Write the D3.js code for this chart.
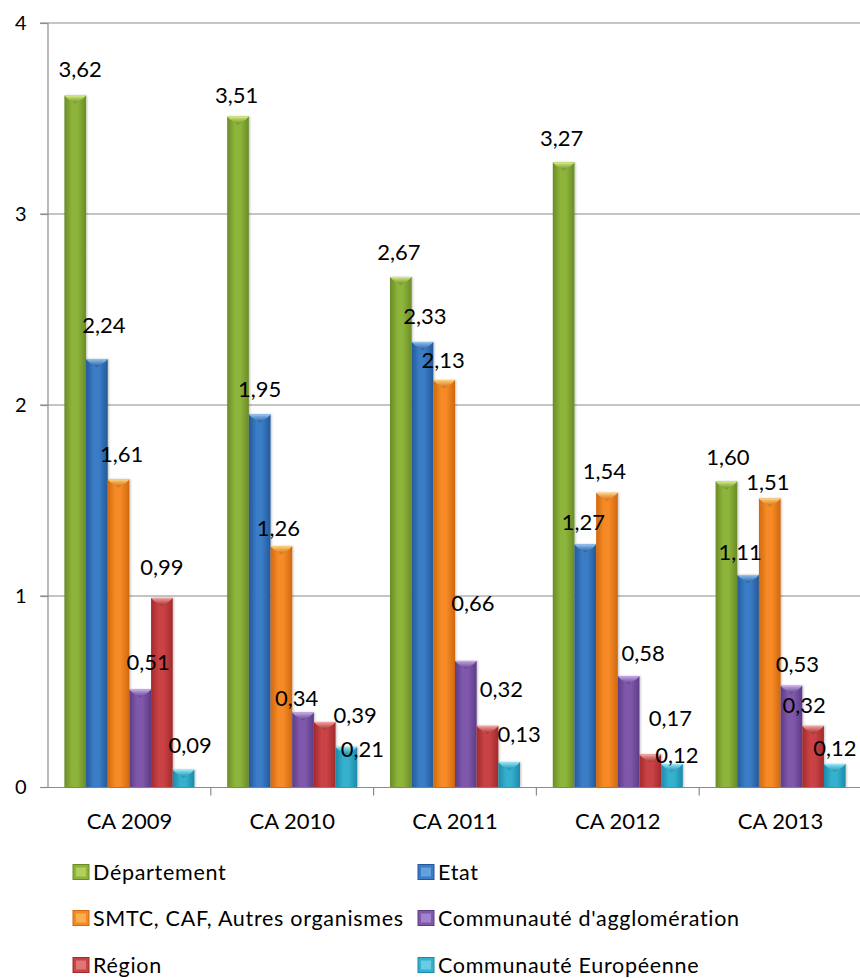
<!DOCTYPE html>
<html>
<head>
<meta charset="utf-8">
<script src="https://cdn.jsdelivr.net/npm/d3@7/dist/d3.min.js"></script>
<style>
  html, body { margin: 0; padding: 0; background: #fff; }
  svg { display: block; }
  text { font-family: Lato, "Open Sans", sans-serif; fill: #000; }
</style>
</head>
<body>
<svg id="chart" width="860" height="978"></svg>
<script>
// Budget sources per year (millions)
const years = ["CA 2009", "CA 2010", "CA 2011", "CA 2012", "CA 2013"];
const seriesNames = [
  "Département",
  "Etat",
  "SMTC, CAF, Autres organismes",
  "Communauté d'agglomération",
  "Région",
  "Communauté Européenne"
];
const departement = [3.62, 3.51, 2.67, 3.27, 1.60];
const etat        = [2.24, 1.95, 2.33, 1.27, 1.11];
const smtc        = [1.61, 1.26, 2.13, 1.54, 1.51];
const communaute  = [0.51, 0.39, 0.66, 0.58, 0.53];
const region      = [0.99, 0.34, 0.32, 0.17, 0.32];
const europe      = [0.09, 0.21, 0.13, 0.12, 0.12];
const yTicks = [0, 1, 2, 3, 4];

// Colours: [edge, body, highlight] for each series
const palette = [
  ["#6a8c28", "#8db43a", "#cfe87a"],
  ["#24599a", "#3a7cc6", "#8cc0f0"],
  ["#d0680e", "#f58a25", "#fccd78"],
  ["#5d3c86", "#7f58ab", "#c3a6e6"],
  ["#a22a2c", "#c94244", "#f0a0a0"],
  ["#1c8aa8", "#35b0cf", "#8fe3f5"]
];

// Hand-placed data label nudges [dx, dy] from the top centre of each bar
const labelShift = [
  [[5, -27], [-1.5, -22], [-2, -25], [-2, -24], [1.5, -24.5]],
  [[7, -34], [0, -25], [2.5, -25.5], [-2, -22], [-8, -22.5]],
  [[3, -25], [-3, -18], [-1, -20], [-2.5, -22], [-2, -17]],
  [[8, -28], [52, 3], [7, -58], [14.5, -23], [6, -22]],
  [[0, -31], [-28, -24], [14, -37], [20, -36], [-9, -21]],
  [[6.5, -24.5], [16, 2], [10, -28], [5, -9], [0, -16]]
];

const values = [departement, etat, smtc, communaute, region, europe];

const svg = d3.select("#chart");
const W = 860, H = 978;
svg.append("rect").attr("width", W).attr("height", H).attr("fill", "#fff");

const x0 = d3.scaleBand().domain(years).range([48, 862]).padding(0);
const x1 = d3.scaleBand().domain(d3.range(seriesNames.length))
  .range([16.4, x0.bandwidth() - 16.4]).padding(0);
const y = d3.scaleLinear().domain([0, 4]).range([787, 23]);

const fmt = d3.formatLocale({ decimal: ",", thousands: " ", grouping: [3], currency: ["", "€"] }).format(".2f");

// Gradients
const defs = svg.append("defs");
palette.forEach((c, i) => {
  const g = defs.append("linearGradient").attr("id", "body" + i)
    .attr("x1", "0").attr("x2", "1").attr("y1", "0").attr("y2", "0");
  g.append("stop").attr("offset", "0%").attr("stop-color", c[0]);
  g.append("stop").attr("offset", "35%").attr("stop-color", c[1]);
  g.append("stop").attr("offset", "60%").attr("stop-color", c[1]);
  g.append("stop").attr("offset", "100%").attr("stop-color", c[0]);
  const m = defs.append("linearGradient").attr("id", "mark" + i)
    .attr("x1", "0").attr("x2", "0").attr("y1", "0").attr("y2", "1");
  m.append("stop").attr("offset", "0%").attr("stop-color", c[2]);
  m.append("stop").attr("offset", "100%").attr("stop-color", c[0]);
});
const shadow = defs.append("filter").attr("id", "shadow")
  .attr("x", "-30%").attr("y", "-5%").attr("width", "160%").attr("height", "110%");
shadow.append("feDropShadow").attr("dx", 1).attr("dy", 0).attr("stdDeviation", 1.2)
  .attr("flood-color", "#000").attr("flood-opacity", 0.25);

// Gridlines
svg.append("g").selectAll("line").data(yTicks.filter(d => d > 0)).join("line")
  .attr("x1", 40).attr("x2", W).attr("y1", d => y(d)).attr("y2", d => y(d))
  .attr("stroke", "#8c8c8c").attr("stroke-width", 1.2);

// Y axis
const yAxis = svg.append("g").attr("transform", "translate(47.5,0)")
  .call(d3.axisLeft(y).tickValues(yTicks).tickSize(7).tickPadding(14).tickFormat(d3.format("d")));
yAxis.select(".domain").attr("stroke", "#8c8c8c").attr("stroke-width", 1.2);
yAxis.selectAll(".tick line").attr("stroke", "#8c8c8c").attr("stroke-width", 1.2);
yAxis.selectAll(".tick text").attr("font-size", 20).attr("font-family", "Lato, sans-serif").attr("fill", "#000");

// X axis
const xAxis = svg.append("g").attr("transform", "translate(0,787.5)")
  .call(d3.axisBottom(x0).tickSize(0).tickPadding(26));
xAxis.select(".domain").remove();
xAxis.append("line").attr("x1", 40).attr("x2", W).attr("stroke", "#8c8c8c").attr("stroke-width", 1.2);
xAxis.selectAll(".tick text").attr("font-size", 22).attr("font-family", "Lato, sans-serif")
  .attr("fill", "#000");
xAxis.selectAll(".sep").data(years.slice(1)).join("line")
  .attr("x1", d => x0(d)).attr("x2", d => x0(d)).attr("y1", 0).attr("y2", 8)
  .attr("stroke", "#8c8c8c").attr("stroke-width", 1.2);

// Bars
const rows = [];
values.forEach((arr, s) => arr.forEach((v, k) => rows.push({ s, k, v })));
const bw = x1.bandwidth();
const barG = svg.append("g").selectAll("g").data(rows).join("g")
  .attr("transform", d => `translate(${x0(years[d.k]) + x1(d.s)},0)`);

barG.append("rect")
  .attr("x", 0).attr("width", bw)
  .attr("y", d => y(d.v)).attr("height", d => y(0) - y(d.v))
  .attr("fill", d => `url(#body${d.s})`)
  .attr("filter", "url(#shadow)");

// Bevelled top of each column
barG.append("path")
  .attr("d", d => {
    const t = y(d.v);
    return `M0,${t} L${bw},${t} L${bw - 3},${t + 3} L${bw / 2},${t + 8} L3,${t + 3} Z`;
  })
  .attr("fill", d => `url(#mark${d.s})`);
barG.append("line")
  .attr("x1", 1).attr("x2", bw - 1)
  .attr("y1", d => y(d.v) + 0.5).attr("y2", d => y(d.v) + 0.5)
  .attr("stroke", d => palette[d.s][2]).attr("stroke-width", 1);

// Data labels
svg.append("g").selectAll("text").data(rows).join("text")
  .attr("x", d => x0(years[d.k]) + x1(d.s) + bw / 2 + labelShift[d.s][d.k][0])
  .attr("y", d => y(d.v) + labelShift[d.s][d.k][1])
  .attr("dy", "0.36em")
  .attr("text-anchor", "middle")
  .attr("font-size", 22)
  .text(d => fmt(d.v));

// Legend
const legendCols = [73, 418];
const legendRows = [872, 918, 965];
const lg = svg.append("g").selectAll("g").data(seriesNames).join("g")
  .attr("transform", (d, i) => `translate(${legendCols[i % 2]},${legendRows[Math.floor(i / 2)]})`);
lg.append("rect").attr("x", 0).attr("y", -7.5).attr("width", 16).attr("height", 15)
  .attr("fill", (d, i) => palette[i][1]).attr("stroke", (d, i) => palette[i][0]).attr("stroke-width", 1);
lg.append("rect").attr("x", 3).attr("y", -4.5).attr("width", 10).attr("height", 9)
  .attr("fill", (d, i) => palette[i][2]).attr("opacity", 0.55);
lg.append("text").attr("x", 20).attr("dy", "0.36em")
  .attr("font-size", 21.5).attr("letter-spacing", 0.7)
  .text(d => d);
</script>
</body>
</html>
